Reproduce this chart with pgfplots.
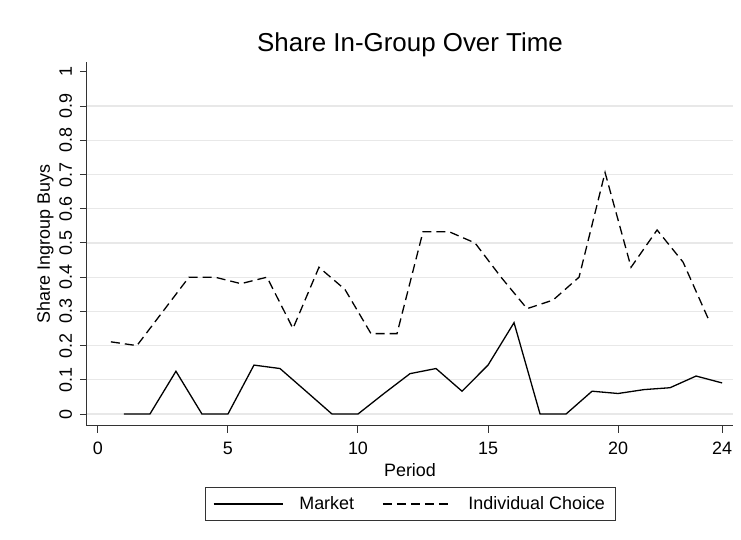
\documentclass[border=0pt]{standalone}
\usepackage{fontspec}
\setmainfont{Liberation Sans}
\usepackage{pgfplots}
\pgfplotsset{compat=1.18}
\begin{document}
\begin{tikzpicture}[x=1bp,y=1bp]
\path[use as bounding box] (-87,-114) rectangle (654,426);
\begin{axis}[
  at={(0,0)}, anchor=south west,
  scale only axis, width=646bp, height=364bp,
  xmin=-0.42, xmax=24.42, ymin=-0.035, ymax=1.029,
  axis x line*=bottom, axis y line*=left,
  axis line style={black!80, line width=1bp},
  xtick={0,5,10,15,20,24},
  ytick={0,0.1,0.2,0.3,0.4,0.5,0.6,0.7,0.8,0.9},
  extra y ticks={1},
  extra y tick style={grid=none},
  ymajorgrids=true,
  major grid style={color=black!9, line width=1.3bp},
  tick align=outside, major tick length=7bp,
  tick style={black!80, line width=1bp},
  /pgf/number format/assume math mode=true,
  tick label style={font=\fontsize{18}{20}\selectfont},
  xticklabel style={anchor=north, inner sep=0pt},
  yticklabel style={rotate=90, anchor=base, inner sep=0pt},
  xticklabel shift=9bp,
  yticklabel shift=8bp,
  title={Share In-Group Over Time},
  title style={font=\fontsize{26}{30}\selectfont, at={(axis description cs:0.5,1.012)}, anchor=base, inner sep=0pt},
  xlabel={Period},
  xlabel style={font=\fontsize{18}{20}\selectfont, at={(axis description cs:0.5,-0.140)}, anchor=base, inner sep=0pt},
  ylabel={Share Ingroup Buys},
  ylabel style={font=\fontsize{18}{20}\selectfont, at={(axis description cs:-0.0573,0.5)}, rotate=0, anchor=base, inner sep=0pt},
  legend columns=2,
  legend cell align=left,
  legend style={at={(axis description cs:0.5,-0.2143)}, anchor=center, draw=black!80, line width=0.8bp, fill=white,
    font=\fontsize{18}{20}\selectfont, inner xsep=8bp, inner ysep=7.5bp,
    /tikz/every odd column/.append style={column sep=14bp},
    /tikz/every even column/.append style={column sep=26bp}},
  legend image code/.code={\draw[#1] (0bp,0bp) -- (69bp,0bp);},
]
\addplot[black, line width=1.3bp] coordinates {
(1,0) (2,0) (3,0.125) (4,0) (5,0) (6,0.143) (7,0.133) (8,0.0667) (9,0) (10,0)
(11,0.06) (12,0.118) (13,0.133) (14,0.0667) (15,0.143) (16,0.267) (17,0) (18,0)
(19,0.0667) (20,0.06) (21,0.0714) (22,0.0769) (23,0.111) (24,0.0909)
};
\addlegendentry{Market}
\addplot[black, line width=1.3bp, dash pattern=on 9bp off 5bp] coordinates {
(0.5,0.211) (1.5,0.2) (2.5,0.3) (3.5,0.4) (4.5,0.4) (5.5,0.381) (6.5,0.4) (7.5,0.25)
(8.5,0.429) (9.5,0.364) (10.5,0.235) (11.5,0.235) (12.5,0.533) (13.5,0.533) (14.5,0.5)
(15.5,0.4) (16.5,0.308) (17.5,0.333) (18.5,0.4) (19.5,0.706) (20.5,0.429) (21.5,0.538)
(22.5,0.444) (23.5,0.273)
};
\addlegendentry{Individual Choice}
\end{axis}
\end{tikzpicture}
\end{document}
